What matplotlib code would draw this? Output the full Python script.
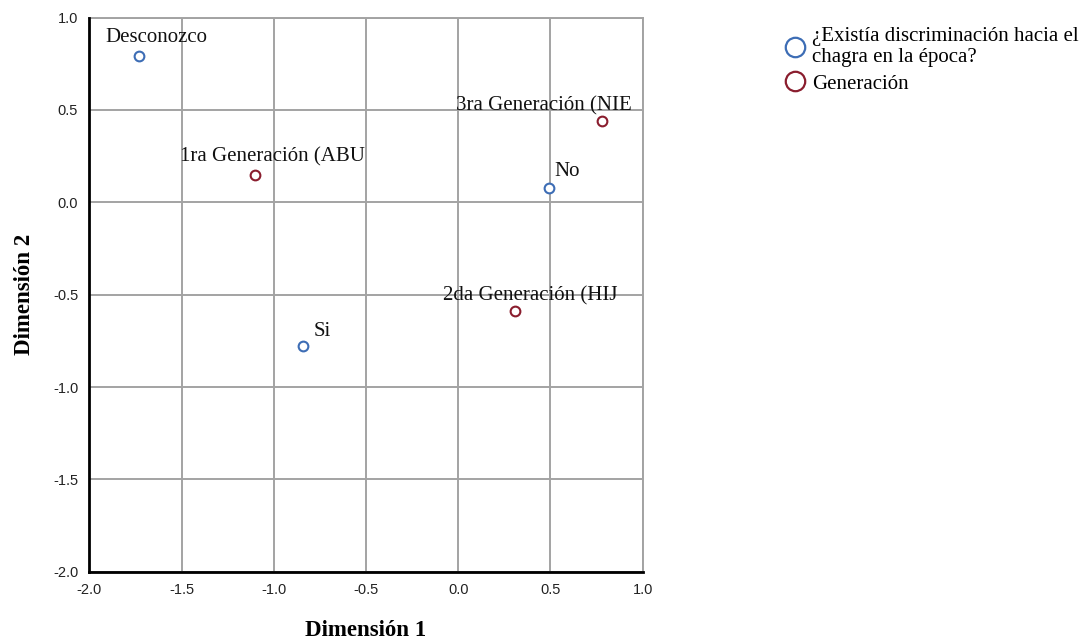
import matplotlib
matplotlib.use("Agg")
import matplotlib.pyplot as plt
from matplotlib.lines import Line2D

# ---- data ----
var_labels = ["Desconozco", "No", "Si"]
var_x = [-1.73, 0.49, -0.84]
var_y = [0.79, 0.08, -0.78]

gen_labels = ["1ra Generación (ABU", "3ra Generación (NIE", "2da Generación (HIJ"]
gen_x = [-1.10, 0.78, 0.31]
gen_y = [0.15, 0.44, -0.59]

series_names = ["¿Existía discriminación hacia el\nchagra en la época?", "Generación"]
ticks = [-2.0, -1.5, -1.0, -0.5, 0.0, 0.5, 1.0]
xlabel = "Dimensión 1"
ylabel = "Dimensión 2"

# ---- style ----
blue = "#3d6db5"
red = "#8a1d2e"
grid_c = "#a3a3a3"
serif = ["Liberation Serif", "DejaVu Serif"]
sans = ["Liberation Sans", "DejaVu Sans"]

# label offsets in pixels (text left, baseline) relative to point
offsets = {
    "Desconozco": (-34, 14),
    "No": (6, 12),
    "Si": (10, 10),
    "1ra Generación (ABU": (-75, 13),
    "3ra Generación (NIE": (-146, 11),
    "2da Generación (HIJ": (-72, 11),
}

fig = plt.figure(figsize=(10.86, 6.41), dpi=100)
ax = fig.add_axes([89.3 / 1086, 1 - 571.7 / 641, (642.7 - 89.3) / 1086, (571.7 - 17.6) / 641])
ax.set_xlim(-2, 1)
ax.set_ylim(-2, 1)
ax.set_xticks(ticks)
ax.set_yticks(ticks)
ax.set_xticklabels([f"{t:.1f}" for t in ticks], family=sans, fontsize=10.5, color="#222222")
ax.set_yticklabels([f"{t:.1f}" for t in ticks], family=sans, fontsize=10.5, color="#222222")
ax.tick_params(length=0, pad=8)
ax.grid(True, color=grid_c, linewidth=1.4)
ax.set_axisbelow(True)
for s in ["top", "right"]:
    ax.spines[s].set_color(grid_c)
    ax.spines[s].set_linewidth(1.4)
for s in ["left", "bottom"]:
    ax.spines[s].set_color("black")
    ax.spines[s].set_linewidth(2.0)
    ax.spines[s].set_zorder(5)

ax.plot(var_x, var_y, linestyle="none", marker="o", markersize=7, markerfacecolor="white",
        markeredgecolor=blue, markeredgewidth=1.5, zorder=4)
ax.plot(gen_x, gen_y, linestyle="none", marker="o", markersize=7, markerfacecolor="white",
        markeredgecolor=red, markeredgewidth=1.5, zorder=4)

for lab, x, y in list(zip(var_labels, var_x, var_y)) + list(zip(gen_labels, gen_x, gen_y)):
    ax.annotate(lab, (x, y), xytext=offsets[lab], textcoords="offset pixels",
                ha="left", va="baseline", family=serif, fontsize=15, color="#111111",
                annotation_clip=False, clip_on=True, zorder=6)

ax.set_xlabel(xlabel, family=serif, fontsize=16.5, fontweight="bold", labelpad=17)
ax.set_ylabel(ylabel, family=serif, fontsize=16.5, fontweight="bold", labelpad=13)

handles = [
    Line2D([], [], linestyle="none", marker="o", markersize=14, markerfacecolor="white",
           markeredgecolor=blue, markeredgewidth=1.6),
    Line2D([], [], linestyle="none", marker="o", markersize=14, markerfacecolor="white",
           markeredgecolor=red, markeredgewidth=1.6),
]
leg = fig.legend(handles, series_names, loc="upper left", bbox_to_anchor=(785 / 1086, 1 - 27 / 641),
                 frameon=False, prop={"family": serif, "size": 15}, handlelength=1.0,
                 handletextpad=0.3, labelspacing=0.35, borderaxespad=0, borderpad=0)
for t in leg.get_texts():
    t.set_linespacing(1.12)

fig.savefig("out.png", dpi=100)
